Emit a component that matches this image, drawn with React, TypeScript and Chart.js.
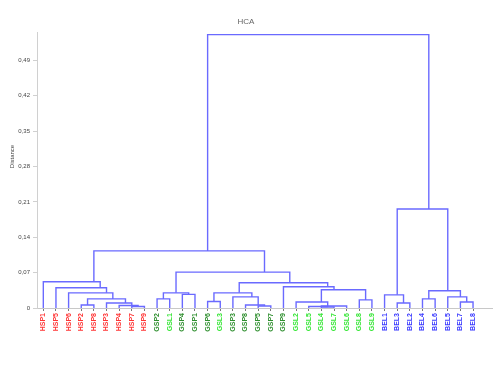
import React, { useEffect, useRef } from 'react';
import { Chart, registerables } from 'chart.js';

Chart.register(...registerables);

// Leaf labels (left to right) and their group
const leafLabels = [
  'HSP1', 'HSP5', 'HSP6', 'HSP2', 'HSP8', 'HSP3', 'HSP4', 'HSP7', 'HSP9',
  'GSP2', 'GSL1', 'GSP4', 'GSP1', 'GSP6', 'GSL3', 'GSP3', 'GSP8', 'GSP5',
  'GSP7', 'GSP9', 'GSL2', 'GSL5', 'GSL4', 'GSL7', 'GSL6', 'GSL8', 'GSL9',
  'BEL1', 'BEL3', 'BEL2', 'BEL4', 'BEL6', 'BEL5', 'BEL7', 'BEL8',
];
const leafGroups = [
  'r', 'r', 'r', 'r', 'r', 'r', 'r', 'r', 'r',
  'd', 'g', 'd', 'd', 'd', 'g', 'd', 'd', 'd',
  'd', 'd', 'g', 'g', 'g', 'g', 'g', 'g', 'g',
  'b', 'b', 'b', 'b', 'b', 'b', 'b', 'b',
];
// Merges: [left node, right node, distance]; leaves are 0..34, merge k gets id 35 + k
const mergeLeft = [7, 6, 5, 3, 38, 2, 1, 0, 9, 11, 43, 13, 17, 16, 15, 46, 22, 21, 52, 20, 25, 54, 19, 50, 45, 42, 28, 27, 30, 33, 32, 63, 62, 60];
const mergeRight = [8, 35, 36, 4, 37, 39, 40, 41, 10, 12, 44, 14, 18, 47, 48, 49, 23, 51, 24, 53, 26, 55, 56, 57, 58, 59, 29, 61, 31, 34, 64, 65, 66, 67];
const mergeHeight = [0.003, 0.005, 0.010, 0.006, 0.018, 0.030, 0.040, 0.052, 0.018, 0.027, 0.030, 0.013, 0.004, 0.006, 0.022, 0.030, 0.002, 0.003, 0.004, 0.012, 0.016, 0.036, 0.042, 0.050, 0.071, 0.113, 0.010, 0.026, 0.018, 0.012, 0.022, 0.034, 0.196, 0.541];
const yTicks = [0, 0.07, 0.14, 0.21, 0.28, 0.35, 0.42, 0.49];
const yTitle = 'Distance';

const groupColors: Record<string, string> = {
  r: '#ff3535',
  d: '#2f8f2f',
  g: '#35e635',
  b: '#3a3aff',
};
const linkColor = '#6a6aff';

function buildDatasets() {
  const n = leafLabels.length;
  const lo: number[] = [];
  const hi: number[] = [];
  const h: number[] = [];
  for (let i = 0; i < n; i++) {
    lo.push(i);
    hi.push(i);
    h.push(0);
  }
  const datasets: any[] = [];
  for (let k = 0; k < mergeLeft.length; k++) {
    const a = mergeLeft[k];
    const b = mergeRight[k];
    const xa = (lo[a] + hi[a]) / 2 + 0.5;
    const xb = (lo[b] + hi[b]) / 2 + 0.5;
    const hh = mergeHeight[k];
    datasets.push({
      data: [
        { x: xa, y: h[a] },
        { x: xa, y: hh },
        { x: xb, y: hh },
        { x: xb, y: h[b] },
      ],
      showLine: true,
      borderColor: linkColor,
      borderWidth: 1.4,
      pointRadius: 0,
      tension: 0,
      fill: false,
    });
    lo.push(Math.min(lo[a], lo[b]));
    hi.push(Math.max(hi[a], hi[b]));
    h.push(hh);
  }
  return datasets;
}

const yTitlePlugin = {
  id: 'yTitleDraw',
  afterDraw(chart: any) {
    const { ctx, chartArea } = chart;
    ctx.save();
    ctx.fillStyle = '#444';
    ctx.font = '6px Arial';
    ctx.textAlign = 'center';
    ctx.textBaseline = 'middle';
    ctx.translate(12, chartArea.top + (chartArea.bottom - chartArea.top) * 0.45);
    ctx.rotate(-Math.PI / 2);
    ctx.fillText(yTitle, 0, 0);
    ctx.restore();
  },
};

export default function App() {
  const ref = useRef<HTMLCanvasElement | null>(null);
  useEffect(() => {
    if (!ref.current) return;
    const chart = new Chart(ref.current, {
      type: 'scatter',
      data: { datasets: buildDatasets() },
      plugins: [yTitlePlugin],
      options: {
        responsive: false,
        animation: false,
        layout: { padding: { left: 0, right: 7, top: 0, bottom: 0 } },
        plugins: {
          legend: { display: false },
          tooltip: { enabled: false },
          title: {
            display: true,
            text: 'HCA',
            color: '#666',
            font: { family: 'Arial', size: 8, weight: 'normal' },
            padding: { top: 17, bottom: 6 },
          },
        },
        scales: {
          x: {
            type: 'linear',
            min: 0,
            max: 36,
            afterBuildTicks: (scale: any) => {
              scale.ticks = leafLabels.map((_, i) => ({ value: i + 0.5 }));
            },
            afterFit: (scale: any) => {
              scale.height = 61;
            },
            border: { color: '#c8c8c8', width: 1 },
            grid: { drawOnChartArea: false, drawTicks: true, tickLength: 3, color: '#777' },
            ticks: {
              autoSkip: false,
              minRotation: 90,
              maxRotation: 90,
              padding: 2,
              font: { family: 'Arial', size: 7, weight: 'bold' },
              color: (ctx: any) => groupColors[leafGroups[ctx.index]] || '#333',
              callback: (_v: any, i: number) => leafLabels[i],
            },
          },
          y: {
            type: 'linear',
            min: 0,
            max: 0.545,
            afterBuildTicks: (scale: any) => {
              scale.ticks = yTicks.map((v) => ({ value: v }));
            },
            afterFit: (scale: any) => {
              scale.width = 37;
            },
            border: { color: '#d0d0d0', width: 1 },
            grid: { drawOnChartArea: false, drawTicks: true, tickLength: 4, color: '#d0d0d0' },
            ticks: {
              padding: 3,
              color: '#444',
              font: { family: 'Arial', size: 6 },
              callback: (v: any) => (v === 0 ? '0' : Number(v).toFixed(2).replace('.', ',')),
            },
          },
        },
      },
    });
    return () => chart.destroy();
  }, []);
  return (
    <div style={{ position: 'fixed', left: 0, top: 0, width: 499, height: 369, background: '#fff' }}>
      <canvas ref={ref} width={499} height={369} style={{ display: 'block' }} />
    </div>
  );
}
